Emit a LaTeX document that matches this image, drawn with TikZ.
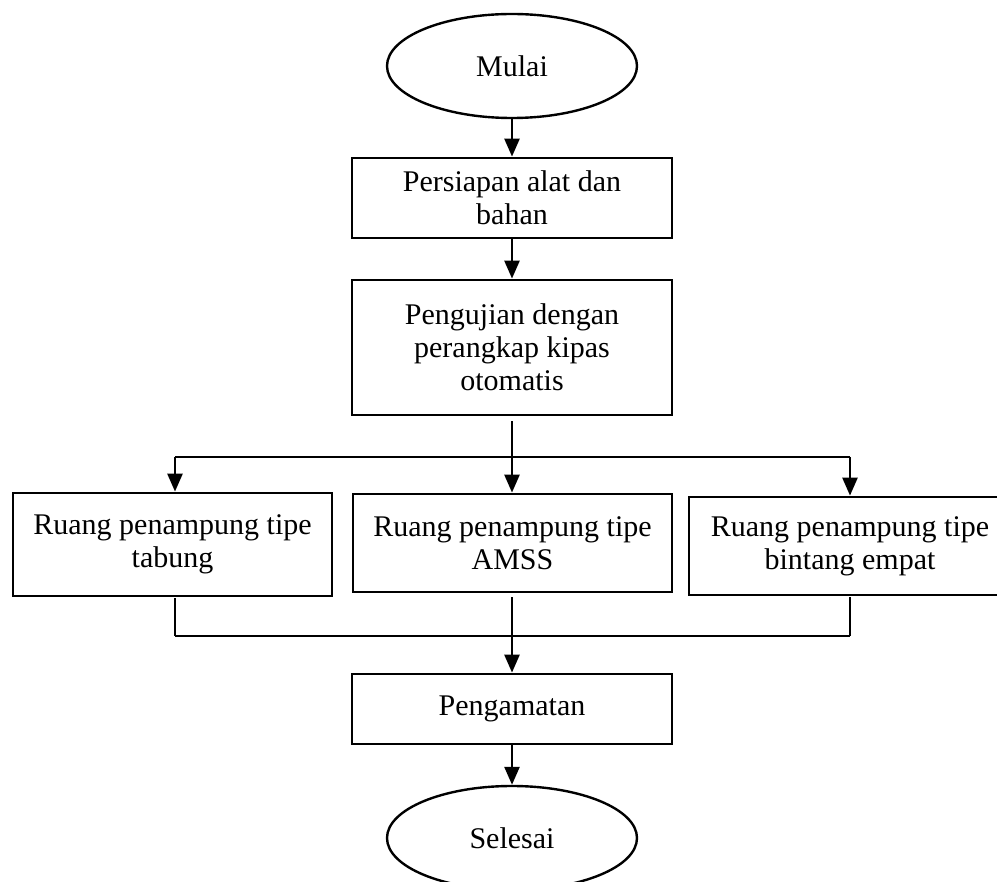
\documentclass[tikz,border=0pt]{standalone}
\usepackage{fontspec}
\setmainfont{Liberation Serif}
\usetikzlibrary{arrows.meta,shapes.geometric}
\begin{document}
\begin{tikzpicture}[x=1pt,y=-1pt,
  every node/.style={font=\fontsize{30}{33}\selectfont, align=center, inner sep=0pt},
  stepbox/.style={draw, line width=2.8pt, rectangle},
  term/.style={draw, line width=2.4pt, ellipse, minimum width=250pt, minimum height=104pt},
  arr/.style={line width=2.6pt, -{Triangle[length=18pt,width=15pt]}},
  thick line/.style={line width=2.6pt},
  thin line/.style={line width=1.2pt}]
\useasboundingbox (0,0) rectangle (997,882);
\node[term] (mulai) at (512,66) {Mulai};
\node[stepbox, minimum width=320pt, minimum height=80pt] (b1) at (512,198) {Persiapan alat dan\\bahan};
\node[stepbox, minimum width=320pt, minimum height=135pt] (b2) at (512,347.5) {Pengujian dengan\\perangkap kipas\\otomatis};
\node[stepbox, minimum width=319pt, minimum height=103pt] (left) at (172.5,544.5) {Ruang penampung tipe\\tabung};
\node[stepbox, minimum width=319pt, minimum height=98pt] (mid) at (512.5,543) {Ruang penampung tipe\\AMSS};
\node[stepbox, minimum width=322pt, minimum height=98pt] (right) at (850,546) {Ruang penampung tipe\\bintang empat};
\node[stepbox, minimum width=320pt, minimum height=70pt] (peng) at (512,709) {Pengamatan};
\node[term] (selesai) at (512,838) {Selesai};

\coordinate (sl) at (175,457);
\coordinate (sm) at (512,457);
\coordinate (sr) at (850,457);
\coordinate (jl) at (175,636);
\coordinate (jm) at (512,636);
\coordinate (jr) at (850,636);

\draw[arr] (mulai) -- (b1);
\draw[arr] (b1) -- (b2);
\draw[thin line] ([yshift=-5pt]b2.south) -- (sm);
\draw[thick line] (sl) -- (sr);
\draw[arr] (sl) -- (sl |- left.north);
\draw[arr] (sm) -- (sm |- mid.north);
\draw[arr] (sr) -- (sr |- right.north);
\draw[thin line] ([yshift=-1pt]jl |- left.south) -- (jl);
\draw[thin line] ([yshift=-4pt]jm |- mid.south) -- (jm);
\draw[thin line] ([yshift=-1pt]jr |- right.south) -- (jr);
\draw[thick line] (jl) -- (jr);
\draw[arr] (jm) -- (peng);
\draw[arr] (peng) -- (selesai);
\end{tikzpicture}
\end{document}
